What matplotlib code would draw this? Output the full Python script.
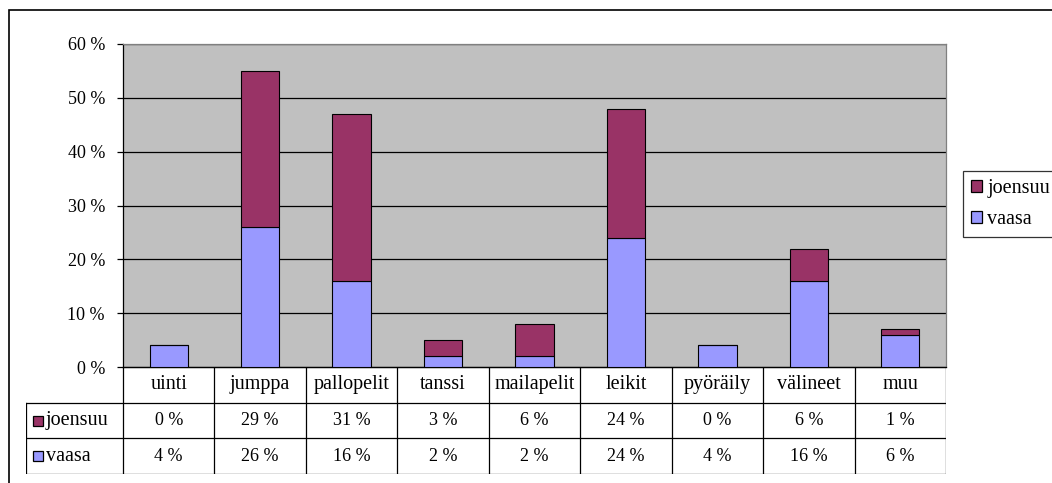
import numpy as np
import matplotlib.pyplot as plt
from matplotlib.patches import Rectangle, Patch

plt.rcParams['font.family'] = ['Liberation Serif', 'DejaVu Serif']

categories = ["uinti", "jumppa", "pallopelit", "tanssi", "mailapelit",
              "leikit", "pyöräily", "välineet", "muu"]
joensuu = [0, 29, 31, 3, 6, 24, 0, 6, 1]
vaasa = [4, 26, 16, 2, 2, 24, 4, 16, 6]
series_names = ["joensuu", "vaasa"]
yticks = [0, 10, 20, 30, 40, 50, 60]

c_joensuu = "#993366"
c_vaasa = "#9999ff"
fs_num = 13      # numbers
fs_word = 14.5   # words (Times in the original renders wide)

W, H = 1052, 483
fig = plt.figure(figsize=(W / 100, H / 100), dpi=100)

def fx(px):
    return px / W

def fy(py):
    return 1 - py / H

# outer frame (only left/top visible)
fig.patches.append(Rectangle((fx(9), -0.1), 1.2, fy(10) + 0.1, transform=fig.transFigure,
                             fill=False, edgecolor="black", linewidth=1.2))

left, right, top, bottom = 123, 946, 44, 367
ax = fig.add_axes([fx(left), fy(bottom), fx(right - left), fy(top) - fy(bottom)])
x = np.arange(len(categories))
ax.set_facecolor("#c0c0c0")
ax.bar(x, vaasa, width=0.42, color=c_vaasa, edgecolor="black", linewidth=0.8, zorder=3)
ax.bar(x, joensuu, width=0.42, bottom=vaasa, color=c_joensuu, edgecolor="black",
       linewidth=0.8, zorder=3)
ax.set_xlim(-0.5, len(categories) - 0.5)
ax.set_ylim(0, 60)
ax.set_yticks(yticks)
ax.set_yticklabels([f"{t} %" for t in yticks], fontsize=fs_num)
ax.yaxis.grid(True, color="black", linewidth=0.9, zorder=1)
ax.set_axisbelow(True)
ax.set_xticks([])
ax.tick_params(axis="y", length=4.5, width=0.9, pad=8.5)
ax.spines["left"].set_linewidth(0.9)
ax.spines["bottom"].set_linewidth(0.9)
for s in ["top", "right"]:
    ax.spines[s].set_color("#808080")
    ax.spines[s].set_linewidth(0.9)

# data table below
tleft, tbottom = 26, 474
colw = (right - left) / len(categories)
L = (left - tleft) / colw
tax = fig.add_axes([fx(tleft), fy(tbottom), fx(right - tleft), fy(bottom) - fy(tbottom)])
tax.set_xlim(-0.5 - L, len(categories) - 0.5)
tax.set_ylim(3, 0)
tax.axis("off")
lw = 0.9
xe = len(categories) - 0.5
x0 = -0.5
xl = -0.5 - L
tax.plot([x0, xe], [0, 0], color="black", lw=lw)
for yy in [1, 2, 3]:
    tax.plot([xl, xe], [yy, yy], color="black", lw=lw)
for i in range(len(categories) + 1):
    tax.plot([x0 + i, x0 + i], [0, 3], color="black", lw=lw)
tax.plot([xl, xl], [1, 3], color="black", lw=lw)

for i, c in enumerate(categories):
    tax.text(i, 0.5, c, ha="center", va="center", fontsize=fs_word)
    tax.text(i, 1.5, f"{joensuu[i]} %", ha="center", va="center", fontsize=fs_num)
    tax.text(i, 2.5, f"{vaasa[i]} %", ha="center", va="center", fontsize=fs_num)

for r, (name, col) in enumerate(zip(series_names, [c_joensuu, c_vaasa])):
    tax.plot([xl + 11.5 / colw], [1.5 + r], marker="s", markersize=7.3, color=col,
             markeredgecolor="black", markeredgewidth=0.9)
    tax.text(xl + 20 / colw, 1.5 + r, name, ha="left", va="center", fontsize=fs_word)

handles = [Patch(facecolor=c_joensuu, edgecolor="black", linewidth=0.9),
           Patch(facecolor=c_vaasa, edgecolor="black", linewidth=0.9)]
leg = fig.legend(handles, series_names, loc="upper left",
                 bbox_to_anchor=(fx(963), fy(171)), fontsize=fs_word,
                 frameon=True, fancybox=False, borderpad=0.4, labelspacing=0.6,
                 handlelength=0.55, handleheight=0.55, handletextpad=0.25,
                 borderaxespad=0)
leg.get_frame().set_edgecolor("black")
leg.get_frame().set_linewidth(0.9)

fig.savefig("out.png", dpi=100)
